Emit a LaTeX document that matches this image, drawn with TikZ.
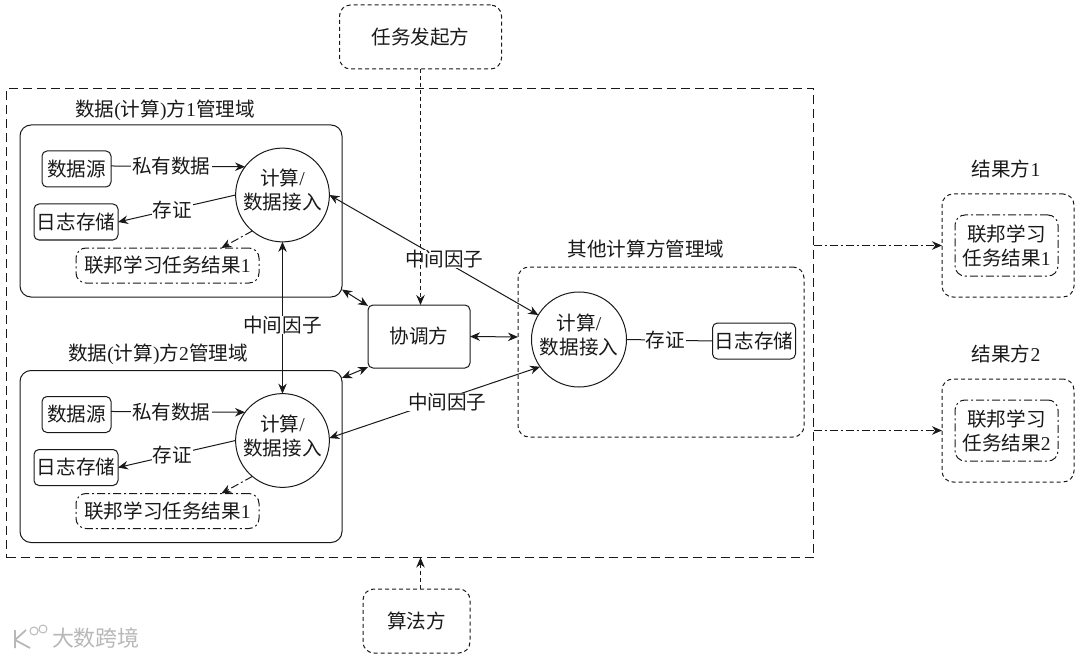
\documentclass[tikz,border=0pt]{standalone}
\usepackage{fontspec}
\setmainfont{Liberation Serif}
\newfontfamily\cjk{Noto Sans CJK SC}
\usetikzlibrary{arrows.meta,positioning,shapes.misc}
\newcommand{\lat}[1]{{\rmfamily #1}}
\tikzset{
  every node/.style={font=\cjk\fontsize{19.6}{24}\selectfont, align=center, inner sep=0pt, outer sep=0pt},
  every path/.style={line width=1pt},
  tip/.style={-{Stealth[length=10pt,width=8.5pt]}},
  tips/.style={{Stealth[length=10pt,width=8.5pt]}-{Stealth[length=10pt,width=8.5pt]}},
  longdash/.style={dash pattern=on 9pt off 5pt},
  shortdash/.style={dash pattern=on 4pt off 3pt},
  dotdash/.style={dash pattern=on 8pt off 3pt on 2pt off 3pt},
  domainbox/.style={draw, rectangle, rounded corners=11pt},
  storebox/.style={draw, rectangle, rounded corners=5pt},
  partybox/.style={draw, shortdash, rectangle, rounded corners=11pt},
  resultbox/.style={draw, dotdash, rectangle, rounded corners=10pt},
  calcnode/.style={draw, circle, text depth=11pt},
  lbl/.style={fill=white, inner xsep=1pt, inner ysep=0pt},
  wmark/.style={font=\cjk\fontsize{22}{24}\selectfont, text=black!28}
}
\begin{document}
\begin{tikzpicture}[x=1pt,y=-1pt,color=black!90]
  \useasboundingbox (0,0) rectangle (1080,658);

  % Outer domain and the parties around it
  \node[draw, longdash, rectangle, minimum width=807pt, minimum height=469pt] (outer) at (410,323) {};
  \node[partybox, minimum width=162pt, minimum height=64pt] (launch) at (420.5,37) {任务发起方};
  \node[partybox, minimum width=107pt, minimum height=64pt] (algo) at (416.5,621) {算法方};
  \node[storebox, minimum width=102pt, minimum height=63pt] (coord) at (419,336.5) {协调方};

  % The two data domains
  \foreach \i/\y/\tx/\ty/\ang/\cang in {1/0/165/110/-26.7/149, 2/245.5/158/354/26/211} {
    \node[domainbox, minimum width=322pt, minimum height=172pt] (dom\i) at (181,{211+\y}) {};
    \node (title\i) at (\tx,\ty) {数据\lat{(}计算\lat{)}方\lat{\i}管理域};
    \node[storebox, minimum width=69pt, minimum height=36pt] (src\i) at (76.5,{169+\y}) {数据源};
    \node[storebox, minimum width=84pt, minimum height=36pt] (log\i) at (76,{222+\y}) {日志存储};
    \node[resultbox, minimum width=183pt, minimum height=35pt] (res\i) at (167.5,{265.5+\y}) {联邦学习任务结果\lat{1}};
    \node[calcnode, minimum size=93pt] (calc\i) at (282.5,{195+\y}) {计算\lat{/}\\数据接入};
    \draw[tip] (src\i.5) -- node[lbl, pos=.45] (own\i) {私有数据} (calc\i.143);
    \draw[tip] (calc\i.180) -- node[lbl, pos=.54] (proof\i) {存证} (log\i.east);
    \draw[tip, dotdash] (calc\i.230) -- (res\i.18);
    \draw[tips] (dom\i.\ang) -- (coord.\cang);
  }

  % The other computing party
  \node[partybox, minimum width=286pt, minimum height=170pt] (other) at (661,352) {};
  \node (title3) at (646,249) {其他计算方管理域};
  \node[calcnode, minimum size=95pt] (calc3) at (579,339.5) {计算\lat{/}\\数据接入};
  \node[storebox, minimum width=83pt, minimum height=36pt] (log3) at (754,341) {日志存储};
  \draw (calc3.east) -- node[lbl, pos=.45] (proof3) {存证} (log3.west);

  % The result parties
  \foreach \i/\y in {1/245.5, 2/430.5} {
    \node[partybox, minimum width=132pt, minimum height=103pt] (party\i) at (1008,\y) {};
    \node[resultbox, minimum width=103pt, minimum height=61pt] (out\i) at (1006.5,\y) {联邦学习\\任务结果\lat{\i}};
    \node (name\i) at (1006,{\y-76.5}) {结果方\lat{\i}};
    \draw[tip, dotdash] (party\i.west -| outer.east) -- (party\i.west);
  }

  % Exchange of the intermediate factors
  \draw[tips] (calc1.south) -- node[lbl, pos=.55] (mid1) {中间因子} (calc2.north);
  \draw[tips] (calc1.0) -- node[lbl, pos=.55, yshift=2pt] (mid2) {中间因子} (calc3.149.5);
  \draw[tips] (calc2.3) -- node[lbl, pos=.56, yshift=-4pt] (mid3) {中间因子} (calc3.215);
  \draw[tips] (coord.east) -- (other.174);

  % Task and algorithm flows
  \draw[tip, shortdash] (launch) -- (launch |- coord.north);
  \draw[tip, shortdash] (algo.north -| launch) -- (outer.south -| launch);

  % Watermark
  \node[wmark] (wm) at (96,638) {大数跨境};
  \draw[black!28, line width=1.8pt] (15,630) -- (15,648) (15,640) -- (26,630) (15,640) -- (30,648);
  \draw[black!28] (34,631) circle (4pt) (43,629) circle (4pt);
\end{tikzpicture}
\end{document}
